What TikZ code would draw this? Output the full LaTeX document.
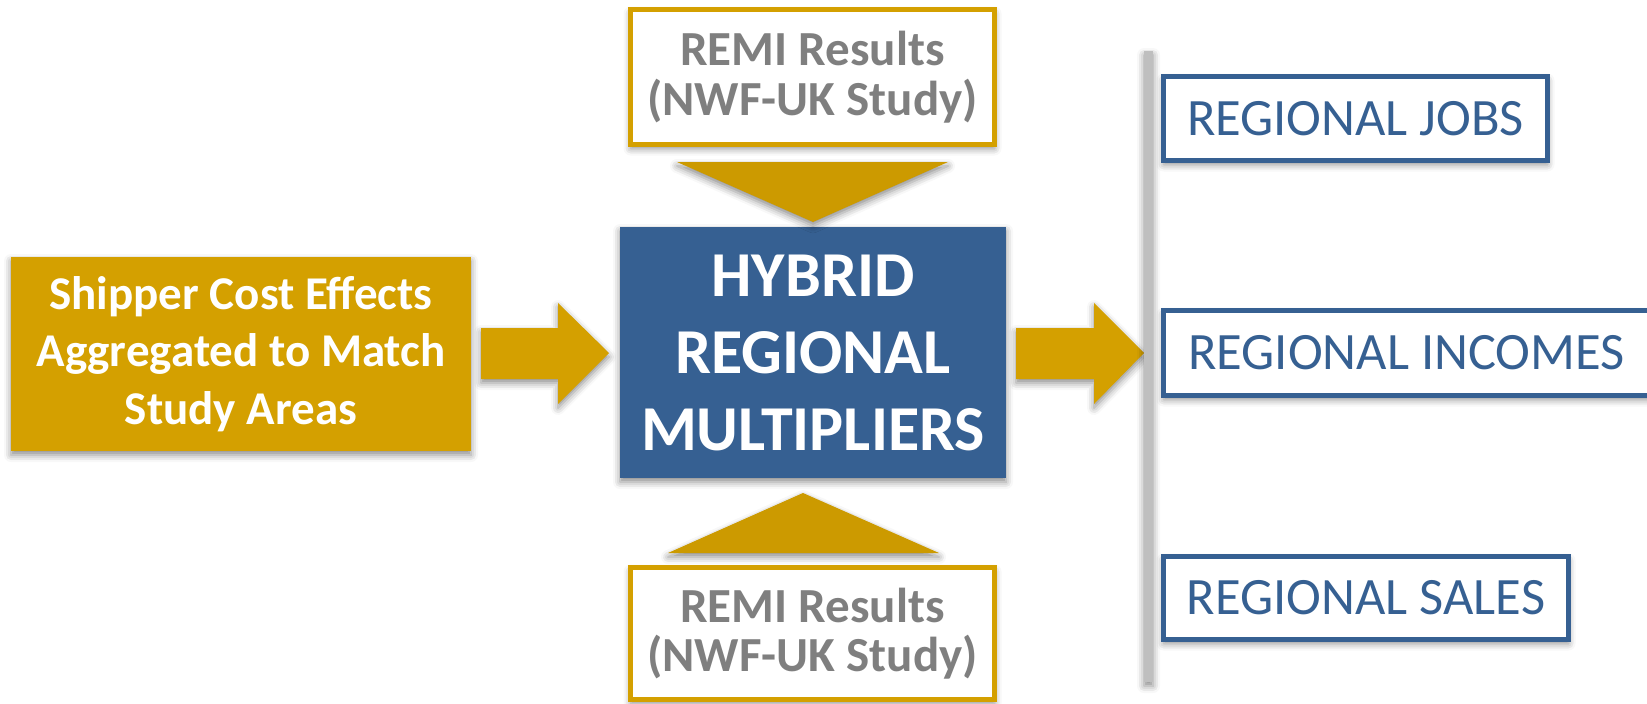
\documentclass[tikz,border=0pt]{standalone}
\usepackage{fontspec}
\setmainfont{Carlito}
\usetikzlibrary{shadows.blur}
\definecolor{gold}{HTML}{D4A000}
\definecolor{golddark}{HTML}{CC9A00}
\definecolor{navy}{HTML}{366092}
\definecolor{txtgray}{HTML}{7F7F7F}
\definecolor{linegray}{HTML}{BFBFBF}
\begin{document}
\begin{tikzpicture}[x=1pt,y=-1pt,
  softshadow/.style={blur shadow={shadow xshift=0pt, shadow yshift=-4pt,
      shadow blur radius=7pt, shadow opacity=45}},
  goldbox/.style={fill=gold, inner sep=0pt, align=center, text=white,
      font=\bfseries\fontsize{47}{57.5}\selectfont, softshadow},
  hybridbox/.style={fill=navy, inner sep=0pt, align=center, text=white,
      font=\bfseries\fontsize{64}{77}\selectfont, softshadow},
  remibox/.style={draw=gold, line width=5pt, fill=white, inner sep=0pt,
      align=center, text=txtgray, font=\bfseries\fontsize{49}{49.5}\selectfont,
      softshadow},
  outbox/.style={draw=navy, line width=5pt, fill=white, inner sep=0pt,
      text=navy, font=\fontsize{52.5}{60}\selectfont, softshadow},
  blockarrow/.style={fill=gold, softshadow},
  wedge/.style={fill=golddark, softshadow}]
\useasboundingbox (0,0) rectangle (1647,704);
\clip (0,0) rectangle (1647,704);

% input, model and sources
\node[goldbox, minimum width=460pt, minimum height=194pt] (src) at (241,354)
  {Shipper Cost Effects\\Aggregated to Match\\Study Areas};
\node[hybridbox, minimum width=386pt, minimum height=251pt] (hyb) at (813,352.5)
  {HYBRID\\REGIONAL\\MULTIPLIERS};
\node[remibox, minimum width=364pt, minimum height=135pt] (remitop) at (812.5,77)
  {REMI Results\\(NWF-UK Study)};
\node[remibox, minimum width=364pt, minimum height=132pt] (remibot) at (812.5,633.5)
  {REMI Results\\(NWF-UK Study)};

% wedges feeding the multipliers
\fill[wedge] (677,162) -- (948,162) -- (813,222) -- cycle;
\fill[wedge] (668,553) -- (939,553) -- (803,493) -- cycle;

% block arrows
\fill[blockarrow] (481,328) -- (558,328) -- (558,303) -- (609,353)
  -- (558,404) -- (558,379) -- (481,379) -- cycle;
\fill[blockarrow] (1016,328) -- (1094,328) -- (1094,303) -- (1144,353)
  -- (1094,404) -- (1094,379) -- (1016,379) -- cycle;

% vertical bar and outputs
\node[fill=linegray, minimum width=9pt, minimum height=631pt, inner sep=0pt,
  softshadow] (bar) at (1148.5,366.5) {};
\node[outbox, minimum width=384pt, minimum height=84pt] (jobs) at (1355.5,118.5)
  {REGIONAL JOBS};
\node[outbox, minimum width=486pt, minimum height=85pt] (incomes) at (1406.5,353)
  {REGIONAL INCOMES};
\node[outbox, minimum width=405pt, minimum height=83pt] (sales) at (1366,598)
  {REGIONAL SALES};
\end{tikzpicture}
\end{document}
